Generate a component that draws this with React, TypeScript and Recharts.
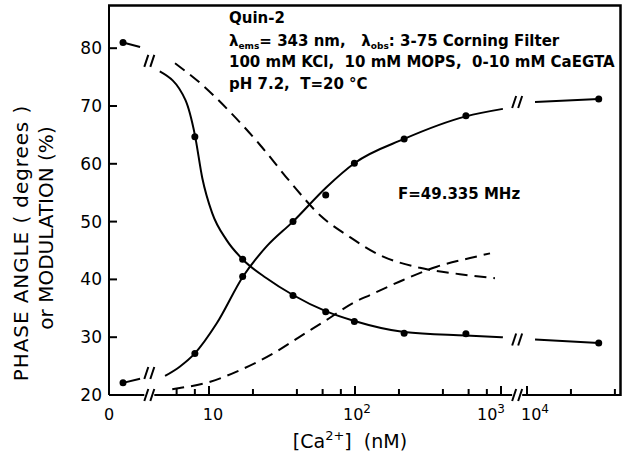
import { ComposedChart, Line, Scatter, XAxis, YAxis } from "recharts";

// concentration axis: 0 | break | 5 .. 10^3 (log) | break | 10^4 ..
const U_ZERO = 0.411;
const PRE_STEP = 0.09;
const BREAK_SHIFT = 0.822;
const X_DOMAIN = [0.315, 3.815];
const Y_DOMAIN = [20, 87.3];

const xPos = (c: number) =>
  c < 3 ? U_ZERO + c * PRE_STEP : c < 3000 ? Math.log10(c) : Math.log10(c) - BREAK_SHIFT;

// measured points (nM)
const pointConc = [0, 8, 17, 37.6, 63, 99, 217, 575, 31000];
const risingPoints = [22.1, 27.2, 40.5, 50.0, 54.6, 60.1, 64.3, 68.3, 71.2];
const fallingPoints = [81.0, 64.7, 43.5, 37.2, 34.4, 32.7, 30.7, 30.6, 29.0];

// solid fitted curves
const risingFitConc = [5.0, 6.3, 8.0, 11.3, 17.1, 24.8, 37.6, 64, 99, 217, 575, 1030];
const risingFitVal = [23.3, 24.9, 27.2, 32.4, 40.5, 45.7, 50.0, 56.0, 60.1, 64.3, 68.2, 69.5];
const fallingFitConc = [4.6, 6.9, 8.0, 9.0, 10.5, 13.2, 17.1, 24.8, 37.6, 63, 99, 217, 575, 1030];
const fallingFitVal = [76.0, 71.0, 65.0, 57.5, 51.5, 46.8, 43.4, 40.2, 37.3, 34.5, 32.8, 30.9, 30.3, 30.0];

// short pieces either side of the axis breaks
const stubLeftConc = [0, 1.3];
const risingStubLeft = [22.1, 22.8];
const fallingStubLeft = [81.0, 80.2];
const stubRightConc = [11350, 31000];
const risingStubRight = [70.7, 71.2];
const fallingStubRight = [29.6, 29.0];

// dashed curves
const dashFallConc = [5.85, 8.67, 13.9, 22.3, 35.9, 57.6, 92.4, 148, 278, 523, 909];
const dashFallVal = [77.4, 74.0, 69.0, 63.3, 56.9, 51.1, 47.3, 44.2, 42.0, 40.9, 40.2];
const dashRiseConc = [5.6, 6.3, 10.2, 16.3, 27.6, 42, 64, 100, 127, 214, 363, 614, 841];
const dashRiseVal = [21.0, 21.2, 22.3, 24.3, 27.2, 30.1, 33.0, 36.1, 37.3, 39.9, 42.2, 43.7, 44.5];

// break marks "//"
const breakConc = [2, 2, 2, 1290, 1290, 1290];
const breakVal = [77.8, 23.8, 20, 70.7, 29.6, 20];

// ticks
const majorConc = [10, 100, 1000, 10000];
const majorExp = ["", "2", "3", "4"];
const minorConc = [6, 8, 20, 40, 60, 80, 200, 400, 600, 800, 20000, 40000];
const yTicks = [20, 30, 40, 50, 60, 70, 80];

const pts = (cs: number[], vs: number[]) => cs.map((c, i) => ({ x: xPos(c), y: vs[i] }));

const FONT = "DejaVu Sans, sans-serif";
const LABEL_SHIFT: Record<string, number> = { "": 4, "2": 2, "3": -10, "4": 8 };
const SP = "\u00a0";

const XTick = (props: any) => {
  const { x, y, payload } = props;
  const v = payload.value;
  if (Math.abs(v - X_DOMAIN[0]) < 1e-6) {
    return (
      <text x={x} y={y + 25} textAnchor="middle" fontSize={16} fontFamily={FONT} fill="#000">0</text>
    );
  }
  const i = majorConc.findIndex((c) => Math.abs(xPos(c) - v) < 1e-6);
  const len = i < 0 ? 6 : 9;
  return (
    <g>
      <line x1={x} y1={y - 1} x2={x} y2={y - len} stroke="#000" strokeWidth={2} />
      {i >= 0 && (
        <text x={x + LABEL_SHIFT[majorExp[i]]} y={y + 25} textAnchor="middle" fontSize={16} fontFamily={FONT} fill="#000">
          10
          {majorExp[i] && <tspan dy={-7} fontSize={12}>{majorExp[i]}</tspan>}
        </text>
      )}
    </g>
  );
};

const YTick = (props: any) => {
  const { x, y, payload } = props;
  return (
    <g>
      <line x1={x + 1} y1={y} x2={x + 8} y2={y} stroke="#000" strokeWidth={2} />
      <text x={x - 7} y={y + 6} textAnchor="end" fontSize={17} fontFamily={FONT} fill="#000">{payload.value}</text>
    </g>
  );
};

const Dot = (props: any) => <circle cx={props.cx} cy={props.cy} r={3.5} fill="#000" />;

const BreakMark = (props: any) => {
  const { cx, cy } = props;
  return (
    <g>
      <rect x={cx - 5} y={cy - 2} width={10} height={4} fill="#fff" />
      <line x1={cx - 5} y1={cy + 6} x2={cx - 1} y2={cy - 6} stroke="#000" strokeWidth={2} />
      <line x1={cx + 1} y1={cy + 6} x2={cx + 5} y2={cy - 6} stroke="#000" strokeWidth={2} />
    </g>
  );
};

const xTicks = [X_DOMAIN[0], ...majorConc.map(xPos), ...minorConc.map(xPos)];

export default function App() {
  const solid = { stroke: "#000", strokeWidth: 2, dot: false, isAnimationActive: false, type: "monotone" as const };
  const dashed = { ...solid, strokeDasharray: "12 7" };
  return (
    <>
      <style>{"body{margin:0}"}</style>
      <ComposedChart width={625} height={464} margin={{ top: 6, right: 5, bottom: 29, left: 0 }}>
        <XAxis
          dataKey="x"
          type="number"
          domain={X_DOMAIN}
          ticks={xTicks}
          interval={0}
          tick={<XTick />}
          tickLine={false}
          tickSize={0}
          tickMargin={0}
          height={40}
          axisLine={{ stroke: "#000", strokeWidth: 2 }}
        />
        <YAxis
          dataKey="y"
          type="number"
          domain={Y_DOMAIN}
          ticks={yTicks}
          interval={0}
          tick={<YTick />}
          tickLine={false}
          tickSize={0}
          tickMargin={0}
          width={109}
          axisLine={{ stroke: "#000", strokeWidth: 2 }}
        />

        <Line data={pts(dashFallConc, dashFallVal)} dataKey="y" {...dashed} />
        <Line data={pts(dashRiseConc, dashRiseVal)} dataKey="y" {...dashed} />
        <Line data={pts(fallingFitConc, fallingFitVal)} dataKey="y" {...solid} />
        <Line data={pts(risingFitConc, risingFitVal)} dataKey="y" {...solid} />
        <Line data={pts(stubLeftConc, fallingStubLeft)} dataKey="y" {...solid} type="linear" />
        <Line data={pts(stubLeftConc, risingStubLeft)} dataKey="y" {...solid} type="linear" />
        <Line data={pts(stubRightConc, fallingStubRight)} dataKey="y" {...solid} type="linear" />
        <Line data={pts(stubRightConc, risingStubRight)} dataKey="y" {...solid} type="linear" />
        <Scatter data={pts(pointConc, risingPoints)} dataKey="y" shape={<Dot />} isAnimationActive={false} />
        <Scatter data={pts(pointConc, fallingPoints)} dataKey="y" shape={<Dot />} isAnimationActive={false} />
        <Scatter data={pts(breakConc, breakVal)} dataKey="y" shape={<BreakMark />} isAnimationActive={false} />

        <g fontFamily={FONT} fontSize={15} fontWeight="bold">
          <text x={229} y={23}>Quin-2</text>
          <text x={229} y={46}>
            λ<tspan fontSize={9} dy={3}>ems</tspan><tspan dy={-3}>{`= 343 nm,${SP}${SP} λ`}</tspan>
            <tspan fontSize={9} dy={3}>obs</tspan><tspan dy={-3}>: 3-75 Corning Filter</tspan>
          </text>
          <text x={229} y={67}>{`100 mM KCl,${SP} 10 mM MOPS,${SP} 0-10 mM CaEGTA`}</text>
          <text x={229} y={89}>{`pH 7.2,${SP} T=20 °C`}</text>
          <text x={398} y={199}>F=49.335 MHz</text>
        </g>
        <g fontFamily={FONT} fontSize={20}>
          <text transform="translate(28 243) rotate(-90)" textAnchor="middle" letterSpacing={0.9}>PHASE ANGLE ( degrees )</text>
          <text transform="translate(53 228) rotate(-90)" textAnchor="middle">or MODULATION (%)</text>
          <text x={350} y={448} textAnchor="middle" fontSize={19}>
            [Ca<tspan dy={-8} fontSize={13}>2+</tspan><tspan dy={8}>{`]${SP} (nM)`}</tspan>
          </text>
        </g>
        {/* top and right sides of the box */}
        <path d="M108,5.5H620.5V396" fill="none" stroke="#000" strokeWidth={2.5} />
      </ComposedChart>
    </>
  );
}
